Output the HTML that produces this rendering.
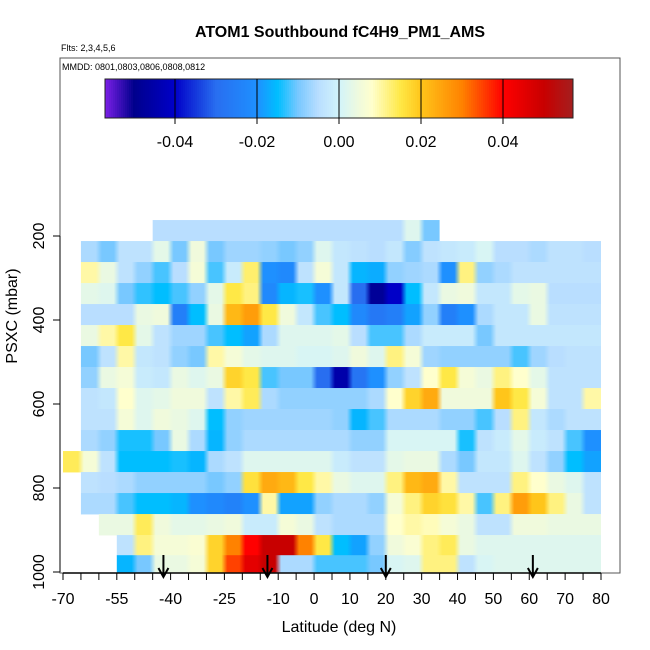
<!DOCTYPE html>
<html><head><meta charset="utf-8"><style>
body{margin:0;background:#fff}svg{display:block;font-family:"Liberation Sans",sans-serif}
</style></head><body>
<svg id="c" width="650" height="650"><defs id="defs"></defs></svg>
<script>
const latBins=[-70,-65,-60,-55,-50,-45,-40,-35,-30,-25,-20,-15,-10,-5,0,5,10,15,20,25,30,35,40,45,50,55,60,65,70,75];
const pressureLevels=[187,237,287,337,387,437,487,537,587,637,687,737,787,837,887,937,985];
const N=null;
const row0=[N,N,N,N,N,-0.005,-0.005,-0.005,-0.005,-0.005,-0.005,-0.005,-0.005,-0.005,-0.005,-0.005,-0.005,-0.005,-0.005,0.002,-0.01,N,N,N,N,N,N,N,N,N];
const row1=[N,-0.006,-0.01,-0.004,-0.004,0.003,-0.01,0.005,-0.01,-0.007,-0.007,-0.008,-0.01,-0.008,0.002,-0.003,-0.004,-0.005,-0.003,-0.009,-0.004,-0.003,-0.002,0.001,-0.005,-0.005,-0.006,-0.004,-0.004,-0.005];
const row2=[N,0.01,0.004,-0.004,-0.008,-0.012,-0.005,0.006,-0.012,-0.002,0.013,-0.02,-0.022,-0.004,0.006,-0.003,-0.016,-0.017,-0.008,-0.007,-0.006,-0.02,0.012,-0.008,-0.006,-0.004,-0.004,-0.004,-0.004,-0.004];
const row3=[N,0.003,0.002,-0.01,-0.013,-0.015,-0.012,-0.008,0.003,0.015,0.012,-0.022,-0.016,-0.014,-0.02,-0.003,-0.03,-0.048,-0.04,-0.015,-0.003,0.004,0.005,-0.003,-0.003,0.003,0.004,-0.005,-0.005,-0.005];
const row4=[N,-0.005,-0.005,-0.005,0.004,0.005,-0.025,-0.015,0.004,0.022,0.026,0.015,0.005,-0.003,-0.012,-0.015,-0.022,-0.027,-0.025,-0.018,-0.008,-0.025,-0.02,-0.006,-0.003,-0.003,0.004,-0.004,-0.004,-0.004];
const row5=[N,0.004,0.01,0.015,0.003,-0.004,-0.007,-0.007,-0.012,-0.015,-0.018,-0.006,0.002,0.002,0.002,0.003,-0.005,-0.012,-0.012,-0.006,-0.002,-0.002,-0.002,-0.01,-0.003,-0.003,-0.003,-0.003,-0.003,-0.003];
const row6=[N,-0.01,-0.004,0.01,-0.003,-0.004,-0.008,-0.01,0.01,0.006,0.003,0.002,0.002,0.001,0.001,0.002,0.005,0.002,0.012,0.006,-0.007,-0.008,-0.008,-0.008,-0.008,-0.012,-0.007,-0.005,-0.004,-0.004];
const row7=[N,-0.008,0.004,0.006,-0.002,-0.003,0.004,0.002,0.004,0.018,0.015,-0.012,-0.01,-0.01,-0.03,-0.045,-0.028,-0.02,-0.008,-0.004,0.008,0.015,0.006,0.004,0.012,0.008,0.003,-0.004,-0.004,-0.004];
const row8=[N,-0.004,-0.003,0.008,0.002,0.003,0.005,0.005,-0.004,0.01,0.014,-0.006,-0.008,-0.008,-0.008,-0.008,-0.008,-0.006,0.008,0.018,0.024,0.005,0.005,0.005,0.02,0.015,0.006,-0.004,-0.004,0.01];
const row9=[N,-0.004,-0.004,0.006,0.002,0.005,0.004,0.002,-0.015,-0.008,-0.007,-0.007,-0.007,-0.007,-0.007,-0.008,-0.016,-0.012,-0.006,-0.006,-0.006,-0.008,-0.008,-0.012,-0.005,0.012,-0.003,-0.006,-0.004,-0.004];
const row10=[N,-0.006,-0.008,-0.014,-0.014,-0.01,0.004,-0.006,-0.016,-0.008,-0.006,-0.006,-0.006,-0.006,-0.006,-0.006,-0.008,-0.008,0.001,0.001,0.001,0.001,-0.014,-0.004,-0.002,0.003,-0.002,-0.004,-0.012,-0.02];
const row11=[0.014,0.006,-0.004,-0.015,-0.015,-0.015,-0.014,-0.016,-0.006,-0.004,0.002,0.002,0.002,0.002,0.002,-0.002,-0.004,-0.004,0.003,0.004,0.004,-0.006,-0.01,-0.003,-0.003,0.002,-0.004,-0.008,-0.015,-0.018];
const row12=[N,-0.004,-0.005,-0.006,-0.008,-0.008,-0.008,-0.008,-0.01,-0.008,0.016,0.024,0.022,0.015,0.01,0.004,0.002,0.002,0.012,0.022,0.024,0.01,-0.004,-0.004,-0.004,0.012,0.008,0.004,0.002,-0.004];
const row13=[N,-0.006,-0.006,-0.012,-0.015,-0.015,-0.016,-0.02,-0.022,-0.024,-0.02,0.01,-0.018,-0.018,-0.008,-0.006,-0.006,-0.008,0.006,0.012,0.018,0.016,0.01,-0.012,0.012,0.026,0.02,0.012,0.004,-0.004];
const row14=[N,N,0.004,0.004,0.014,0.005,0.003,0.003,0.004,0.005,-0.002,-0.002,0.006,0.004,-0.004,-0.006,-0.006,-0.006,0.008,0.01,0.009,0.006,0.004,-0.004,-0.004,0.005,0.005,0.004,0.004,0.004];
const row15=[N,N,N,-0.004,0.012,0.006,0.006,0.007,0.018,0.03,0.04,0.05,0.05,0.03,0.015,-0.015,-0.018,-0.008,0.005,0.007,0.012,0.014,0.004,0.002,0.002,0.002,0.002,0.002,0.002,0.002];
const row16=[N,N,N,-0.016,-0.01,0.004,0.004,0.006,0.018,0.035,0.045,0.05,-0.006,-0.006,-0.012,-0.012,-0.012,-0.01,0.001,0.002,0.012,0.012,-0.004,0.001,0.002,0.002,0.002,0.002,0.002,0.002];
const gridValues=[row0,row1,row2,row3,row4,row5,row6,row7,row8,row9,row10,row11,row12,row13,row14,row15,row16];
const xTicks=[-70,-65,-60,-55,-50,-45,-40,-35,-30,-25,-20,-15,-10,-5,0,5,10,15,20,25,30,35,40,45,50,55,60,65,70,75,80];
const xLabels=[-70,-55,-40,-25,-10,0,10,20,30,40,50,60,70,80];
const yTicks=[200,400,600,800,1000];
const cbTicks=[-0.04,-0.02,0,0.02,0.04];
const flightArrows=[-42,-13,20,61];

const xS=l=>63+(l+70)*538/150;
const yS=p=>236+(p-200)*0.42;
const cbS=v=>339+v*4100;
const stops=[[-0.057,[122,31,230]],[-0.05,[0,0,140]],[-0.04,[0,0,200]],[-0.03,[40,110,240]],[-0.02,[30,144,255]],[-0.015,[0,190,255]],[-0.01,[120,200,255]],[-0.005,[185,222,255]],[0,[210,244,250]],[0.005,[240,250,220]],[0.008,[255,255,205]],[0.015,[255,232,70]],[0.02,[255,197,26]],[0.03,[255,130,0]],[0.04,[255,0,0]],[0.05,[200,0,0]],[0.057,[165,30,30]]];
function col(v){v=Math.max(-0.057,Math.min(0.057,v));for(let i=1;i<stops.length;i++){if(v<=stops[i][0]){const a=stops[i-1],b=stops[i],t=(v-a[0])/(b[0]-a[0]);return 'rgb('+a[1].map((c,k)=>Math.round(c+(b[1][k]-c)*t)).join(',')+')';}}return 'rgb(165,30,30)';}
const NS='http://www.w3.org/2000/svg',svg=document.getElementById('c'),defs=document.getElementById('defs');
function el(t,a,p){const e=document.createElementNS(NS,t);for(const k in a)e.setAttribute(k,a[k]);(p||svg).appendChild(e);return e;}
function tx(x,y,s,a,p){const e=el('text',Object.assign({x:x,y:y},a),p);e.textContent=s;return e;}

let g=el('g',{});


const dy=50*0.42;
let gid=0;
gridValues.forEach((row,ri)=>{
 const yc=yS(pressureLevels[ri]);const y0=yc-dy/2,y1=Math.min(yc+dy/2,572);
 let i=0;
 while(i<row.length){
  if(row[i]===null){i++;continue;}
  let j=i;while(j+1<row.length&&row[j+1]!==null)j++;
  const x0=xS(latBins[i]),x1=xS(latBins[j]+5);
  const id='gr'+(gid++);
  const lg=el('linearGradient',{id:id,gradientUnits:'userSpaceOnUse',x1:x0,x2:x1,y1:0,y2:0},defs);
  for(let k=i;k<=j;k++){
   const xa=xS(latBins[k])+3,xb=xS(latBins[k]+5)-3;
   el('stop',{offset:((xa-x0)/(x1-x0)).toFixed(4),'stop-color':col(row[k])},lg);
   el('stop',{offset:((xb-x0)/(x1-x0)).toFixed(4),'stop-color':col(row[k])},lg);
  }
  const r=el('rect',{x:x0.toFixed(2),y:y0.toFixed(2),width:(x1-x0).toFixed(2),height:(y1-y0+0.4).toFixed(2),fill:'url(#'+id+')'},g);
  
  
  i=j+1;
 }
});

let b=el('rect',{x:60,y:58,width:560,height:515,fill:'none',stroke:'#555','stroke-width':1});



let t=tx(340,37,'ATOM1 Southbound fC4H9_PM1_AMS',{'text-anchor':'middle','font-size':16,'font-weight':'bold'});


t=tx(61,51,'Flts: 2,3,4,5,6',{'font-size':9});


t=tx(62,70,'MMDD: 0801,0803,0806,0808,0812',{'font-size':9});



let cb=el('g',{});


for(let x=105;x<573;x+=2){const v=(x+1-339)/4100;el('rect',{x:x,y:79,width:2.3,height:39,fill:col(v)},cb);}
el('rect',{x:105,y:79,width:468,height:39,fill:'none',stroke:'#222'},cb);
cbTicks.forEach(v=>{const x=cbS(v);el('line',{x1:x,x2:x,y1:79,y2:124,stroke:'#000'},cb);
 const l=tx(x,147,v.toFixed(2),{'text-anchor':'middle','font-size':16},cb);
 
 });

let xa=el('g',{});


el('line',{x1:xS(-70),x2:xS(80),y1:573,y2:573,stroke:'#000','stroke-width':1.5},xa);
xTicks.forEach(v=>el('line',{x1:xS(v),x2:xS(v),y1:573,y2:580,stroke:'#000'},xa));
xLabels.forEach(v=>{const l=tx(xS(v),604,String(v),{'text-anchor':'middle','font-size':16},xa);
 
 });
t=tx(339,632,'Latitude (deg N)',{'text-anchor':'middle','font-size':16});



let ya=el('g',{});


el('line',{x1:60,x2:60,y1:yS(200),y2:yS(1000),stroke:'#000'},ya);
yTicks.forEach(v=>{const y=yS(v);el('line',{x1:53,x2:60,y1:y,y2:y,stroke:'#000'},ya);
 const l=tx(0,0,String(v),{'text-anchor':'middle','font-size':16,transform:'translate(44,'+y+') rotate(-90)'},ya);
 
 });
t=tx(0,0,'PSXC (mbar)',{'text-anchor':'middle','font-size':16,transform:'translate(17,316) rotate(-90)'});



flightArrows.forEach(l=>{const x=xS(l);const a=el('g',{});
 
 
 el('line',{x1:x,x2:x,y1:555,y2:576,stroke:'#000','stroke-width':2},a);
 el('polyline',{points:(x-5)+',568 '+x+',577 '+(x+5)+',568',fill:'none',stroke:'#000','stroke-width':2},a);});
</script>
</body></html>
